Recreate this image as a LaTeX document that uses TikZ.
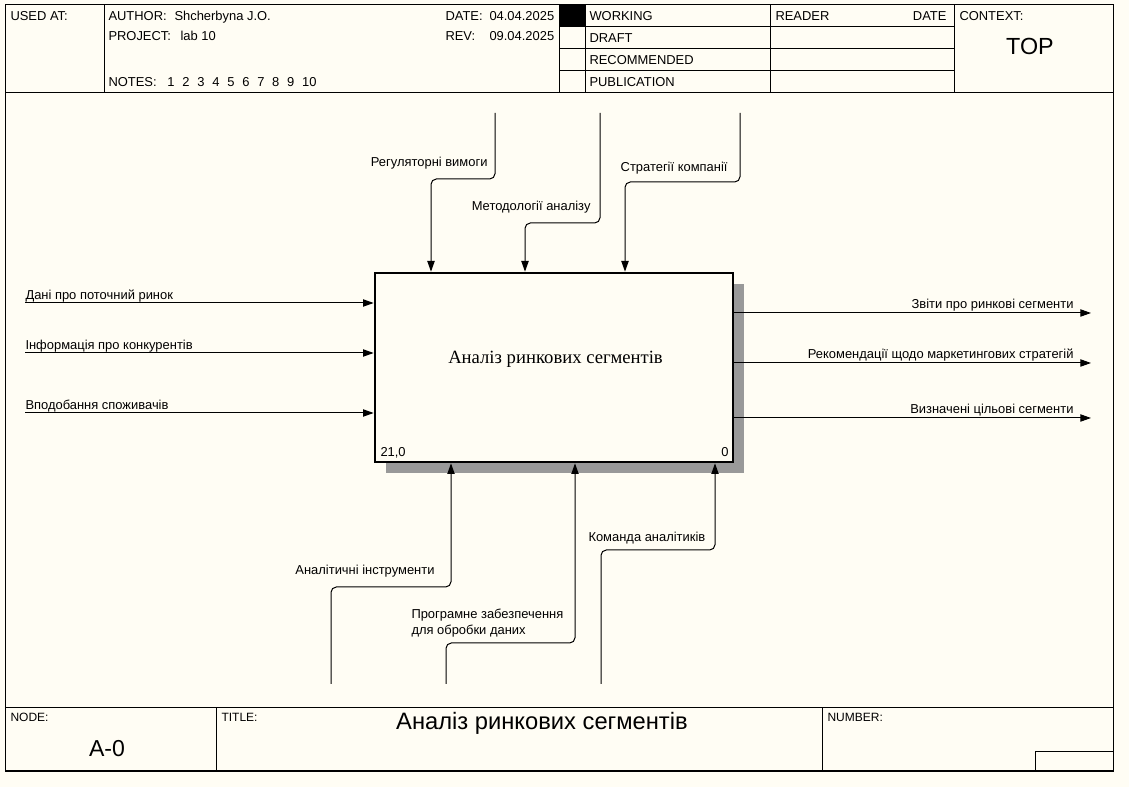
\documentclass[tikz,border=0pt]{standalone}
\usepackage{fontspec}
\setmainfont{Liberation Sans}
\newfontfamily\boxfont{Liberation Serif}
\usetikzlibrary{arrows.meta,positioning,shadows}
\definecolor{paper}{RGB}{255,253,244}
\newcommand{\notegap}{\hspace{5.85pt}}

\begin{document}
\begin{tikzpicture}[x=0.75pt, y=-0.75pt, line width=0.75pt,
    every node/.style={inner sep=0pt, font=\fontsize{9.7}{12}\selectfont},
    field/.style={anchor=base west},
    lbl/.style={anchor=base west},
    lblr/.style={anchor=base east},
    small/.style={anchor=base west, font=\fontsize{9}{10}\selectfont},
    flow/.style={draw, rounded corners=4pt, -{Triangle[length=8pt,width=5.5pt]}},
    func/.style={draw, line width=2pt, fill=paper, minimum width=268.5pt, minimum height=141.75pt,
                 drop shadow={shadow xshift=8.2pt, shadow yshift=-8.2pt, fill=black!40, opacity=1}}]

  % sheet and frame
  \fill[paper] (0,0) rectangle (1129,787);
  \draw (5,5) rectangle (1113,771);
  \draw (5,93) -- (1113,93);
  \draw (104,5) -- (104,93);
  \draw (559,5) -- (559,93);
  \draw (585,5) -- (585,93);
  \draw (770,5) -- (770,93);
  \draw (954,5) -- (954,93);
  \draw (559,27) -- (954,27);
  \draw (559,49) -- (954,49);
  \draw (559,71) -- (954,71);
  \fill (559,5) rectangle (585,27);
  \draw (5,708) -- (1113,708);
  \draw (216,708) -- (216,771);
  \draw (822,708) -- (822,771);
  \draw (1035,752) rectangle (1113,771);
  \draw[line width=1.2pt] (5,771) -- (1113,771);

  % header
  \node[field] (used) at (10,20.5) {USED AT:};
  \node[field] (author) at (108,20.5) {AUTHOR:};
  \node[field] (author-v) at (174,20.5) {Shcherbyna J.O.};
  \node[field] (project) at (108,40.5) {PROJECT:};
  \node[field] (project-v) at (180,40.5) {lab 10};
  \node[field] (notes) at (108,86.5) {NOTES:\hspace{8pt}1\notegap 2\notegap 3\notegap 4\notegap 5\notegap 6\notegap 7\notegap 8\notegap 9\notegap 10};
  \node[field] (date) at (445,20.5) {DATE:};
  \node[field] (date-v) at (489,20.5) {04.04.2025};
  \node[field] (rev) at (445,40.5) {REV:};
  \node[field] (rev-v) at (489,40.5) {09.04.2025};
  \node[field] (working) at (589,20.5) {WORKING};
  \node[field] (draft) at (589,42.5) {DRAFT};
  \node[field] (recommended) at (589,64.5) {RECOMMENDED};
  \node[field] (publication) at (589,86.5) {PUBLICATION};
  \node[field] (reader) at (775,20.5) {READER};
  \node[anchor=base east] (reader-date) at (947,20.5) {DATE};
  \node[field] (context) at (959,20.5) {CONTEXT:};
  \node[anchor=base, font=\fontsize{17.5}{20}\selectfont] (top) at (1030,55) {TOP};

  % footer
  \node[small] (node-lbl) at (10,721) {NODE:};
  \node[small] (title-lbl) at (221,721) {TITLE:};
  \node[small] (number-lbl) at (827,721) {NUMBER:};
  \node[anchor=base, font=\fontsize{17.3}{20}\selectfont] (node-v) at (107,757) {A-0};
  \node[anchor=base, font=\fontsize{17.8}{20}\selectfont] (title-v) at (542,729.5) {Аналіз ринкових сегментів};

  % function box
  \node[func] (fn) at (554,367.5) {};
  \node[anchor=base, font=\boxfont\fontsize{14}{16}\selectfont] (fn-name) at (555.5,364) {Аналіз ринкових сегментів};
  \node[anchor=base west] (fn-cost) at (380,457) {21,0};
  \node[anchor=base east] (fn-num) at (729,457) {0};

  % free ends and bends
  \coordinate (in1) at (25,303);
  \coordinate (in2) at (25,353);
  \coordinate (in3) at (25,413);
  \coordinate (out1) at (1091,313);
  \coordinate (out2) at (1091,363);
  \coordinate (out3) at (1091,418);
  \coordinate (ctl1) at (495,113);
  \coordinate (ctl1-bend) at (431,179);
  \coordinate (ctl2) at (600,113);
  \coordinate (ctl2-bend) at (525,223);
  \coordinate (ctl3) at (740,113);
  \coordinate (ctl3-bend) at (625,182);
  \coordinate (mec1) at (331,684);
  \coordinate (mec1-bend) at (451,587);
  \coordinate (mec2) at (446,684);
  \coordinate (mec2-bend) at (575,643);
  \coordinate (mec3) at (601,684);
  \coordinate (mec3-bend) at (715,550);

  % inputs
  \draw[flow] (in1) -- (in1 -| fn.west);
  \draw[flow] (in2) -- (in2 -| fn.west);
  \draw[flow] (in3) -- (in3 -| fn.west);
  \node[lbl] (in1-lbl) at (25,299.5) {Дані про поточний ринок};
  \node[lbl] (in2-lbl) at (25,349.5) {Інформація про конкурентів};
  \node[lbl] (in3-lbl) at (25,409.5) {Вподобання споживачів};

  % outputs
  \draw[flow] (fn.east |- out1) -- (out1);
  \draw[flow] (fn.east |- out2) -- (out2);
  \draw[flow] (fn.east |- out3) -- (out3);
  \node[lblr] (out1-lbl) at (1074,308.5) {Звіти про ринкові сегменти};
  \node[lblr] (out2-lbl) at (1074,358.5) {Рекомендації щодо маркетингових стратегій};
  \node[lblr] (out3-lbl) at (1074,413.5) {Визначені цільові сегменти};

  % controls
  \draw[flow] (ctl1) |- (ctl1-bend) -- (ctl1-bend |- fn.north);
  \draw[flow] (ctl2) |- (ctl2-bend) -- (ctl2-bend |- fn.north);
  \draw[flow] (ctl3) |- (ctl3-bend) -- (ctl3-bend |- fn.north);
  \node[lblr] (ctl1-lbl) at (488,166.5) {Регуляторні вимоги};
  \node[lblr] (ctl2-lbl) at (591,211) {Методології аналізу};
  \node[lblr] (ctl3-lbl) at (728,171.5) {Стратегії компанії};

  % mechanisms
  \draw[flow] (mec1) |- (mec1-bend) -- (mec1-bend |- fn.south);
  \draw[flow] (mec2) |- (mec2-bend) -- (mec2-bend |- fn.south);
  \draw[flow] (mec3) |- (mec3-bend) -- (mec3-bend |- fn.south);
  \node[lblr] (mec1-lbl) at (435,574.5) {Аналітичні інструменти};
  \node[anchor=north west, align=left, font=\fontsize{9.7}{12}\selectfont] (mec2-lbl) at (411,609) {Програмне забезпечення\\для обробки даних};
  \node[lbl] (mec3-lbl) at (588,541.5) {Команда аналітиків};

\end{tikzpicture}
\end{document}
